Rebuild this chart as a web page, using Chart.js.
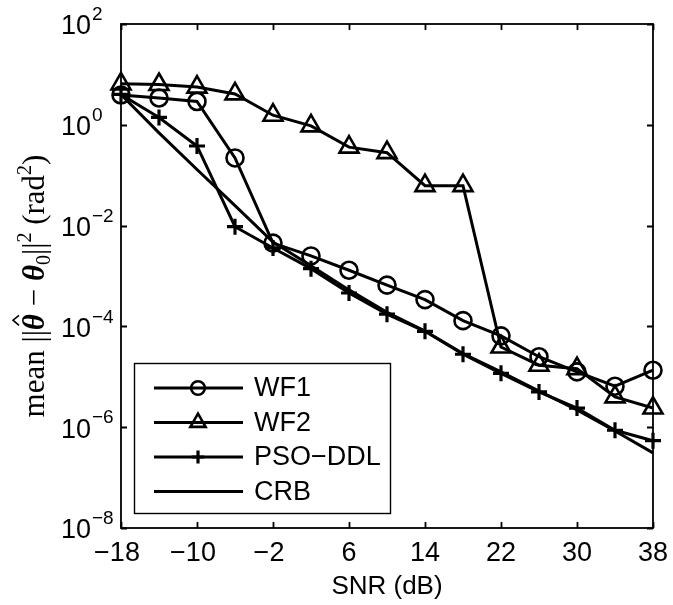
<!DOCTYPE html>
<html>
<head>
<meta charset="utf-8">
<script src="https://cdn.jsdelivr.net/npm/chart.js@4.4.0/dist/chart.umd.min.js"></script>
<style>
  html, body { margin: 0; padding: 0; background: #fff; }
  #wrap { width: 673px; height: 605px; }
</style>
</head>
<body>
<div id="wrap"><canvas id="errChart"></canvas></div>
<script>
// SNR grid (dB) and mean squared error per method
const snr = [-18, -14, -10, -6, -2, 2, 6, 10, 14, 18, 22, 26, 30, 34, 38];
const wf1 = [3.9, 3.4, 2.9, 0.22, 4.5e-3, 2.5e-3, 1.3e-3, 6.6e-4, 3.4e-4, 1.3e-4, 6.5e-5, 2.5e-5, 1.25e-5, 6.5e-6, 1.35e-5];
const wf2 = [6.5, 6.3, 5.6, 4.1, 1.55, 0.95, 0.36, 0.28, 0.062, 0.062, 3.9e-5, 1.7e-5, 1.45e-5, 4.0e-6, 2.4e-6];
const psoDdl = [4.0, 1.4, 0.38, 9.5e-3, 3.6e-3, 1.4e-3, 4.6e-4, 1.75e-4, 8.0e-5, 2.8e-5, 1.17e-5, 5.0e-6, 2.4e-6, 8.7e-7, 5.4e-7];
const crb = [4.0, 0.69, 0.13, 0.025, 4.7e-3, 1.6e-3, 5.3e-4, 1.9e-4, 8.1e-5, 2.9e-5, 1.25e-5, 5.2e-6, 2.2e-6, 8.4e-7, 3.1e-7];

const xTicks = [-18, -10, -2, 6, 14, 22, 30, 38];
const yExps = [2, 0, -2, -4, -6, -8];
const legendNames = ['WF1', 'WF2', 'PSO\u2212DDL', 'CRB'];

const sans = "'Liberation Sans', Arial, sans-serif";
const serif = "'Liberation Serif', 'Times New Roman', serif";

function pairs(ys) {
    return snr.map((x, i) => ({ x: x, y: ys[i] }));
}

function series(label, ys, style, r, bw) {
    return {
        label: label,
        data: pairs(ys),
        borderColor: '#000',
        borderWidth: 3,
        pointStyle: style,
        pointRadius: r,
        pointBorderWidth: bw,
        pointBorderColor: '#000',
        pointBackgroundColor: 'rgba(0,0,0,0)',
        tension: 0,
        clip: false
    };
}

// axes box, inward ticks, tick labels, titles and legend in MATLAB style
const matlabAxes = {
    id: 'matlabAxes',
    afterDraw(chart) {
        const ctx = chart.ctx;
        const a = chart.chartArea;
        const xs = chart.scales.x, ys = chart.scales.y;
        ctx.save();
        ctx.strokeStyle = '#000';
        ctx.fillStyle = '#000';
        ctx.lineWidth = 1.8;
        ctx.strokeRect(a.left, a.top, a.right - a.left, a.bottom - a.top);

        ctx.beginPath();
        xTicks.forEach(t => {
            const px = Math.round(xs.getPixelForValue(t)) + 0.5;
            ctx.moveTo(px, a.bottom); ctx.lineTo(px, a.bottom - 6);
            ctx.moveTo(px, a.top); ctx.lineTo(px, a.top + 6);
        });
        yExps.forEach(e => {
            const py = Math.round(ys.getPixelForValue(Math.pow(10, e))) + 0.5;
            ctx.moveTo(a.left, py); ctx.lineTo(a.left + 6, py);
            ctx.moveTo(a.right, py); ctx.lineTo(a.right - 6, py);
        });
        ctx.stroke();

        // x tick labels
        ctx.font = '27px ' + sans;
        ctx.textAlign = 'center';
        ctx.textBaseline = 'middle';
        xTicks.forEach(t => {
            const s = t < 0 ? '\u2212' + Math.abs(t) : String(t);
            ctx.fillText(s, xs.getPixelForValue(t) - (t < 0 ? 4 : 0), a.bottom + 26);
        });
        ctx.font = '26px ' + sans;
        ctx.fillText('SNR (dB)', (a.left + a.right) / 2, a.bottom + 59);

        // y tick labels 10^e
        yExps.forEach(e => {
            const py = ys.getPixelForValue(Math.pow(10, e));
            ctx.font = '27px ' + sans;
            ctx.textAlign = 'right';
            ctx.textBaseline = 'middle';
            ctx.fillText('10', 91, py + 3);
            ctx.font = '19px ' + sans;
            ctx.textAlign = 'left';
            const es = e < 0 ? '\u2212' + Math.abs(e) : String(e);
            ctx.fillText(es, 92, py - 9);
        });

        // y axis title, rotated
        ctx.save();
        ctx.translate(34, 286);
        ctx.rotate(-Math.PI / 2);
        ctx.textBaseline = 'alphabetic';
        ctx.textAlign = 'left';
        const big = '31px ' + serif, small = '20px ' + serif, th = 'bold italic 31px ' + serif;
        const parts = [
            ['mean ', big, 0], ['||', big, 0], ['\u03b8', th, 0, 'hat'], [' \u2212 ', big, 0],
            ['\u03b8', th, 0], ['0', small, 6], ['||', big, 0], ['2', small, -13],
            [' (rad', big, 0], ['2', small, -13], [')', big, 0]
        ];
        let total = 0;
        parts.forEach(p => { ctx.font = p[1]; total += ctx.measureText(p[0]).width; });
        let cx = -total / 2;
        parts.forEach(p => {
            ctx.font = p[1];
            const w = ctx.measureText(p[0]).width;
            ctx.fillText(p[0], cx, 10 + p[2]);
            if (p[3] === 'hat') {
                ctx.beginPath();
                ctx.lineWidth = 1.6;
                ctx.moveTo(cx + w * 0.3, -15);
                ctx.lineTo(cx + w * 0.62, -21);
                ctx.lineTo(cx + w * 0.92, -15);
                ctx.stroke();
            }
            cx += w;
        });
        ctx.restore();

        // legend
        const lx = 134, ly = 363, lw = 256, lh = 150;
        ctx.fillStyle = '#fff';
        ctx.fillRect(lx, ly, lw, lh);
        ctx.lineWidth = 1.4;
        ctx.strokeRect(lx + 0.5, ly + 0.5, lw, lh);
        ctx.font = '27px ' + sans;
        ctx.textAlign = 'left';
        ctx.textBaseline = 'middle';
        chart.data.datasets.forEach((ds, i) => {
            const ry = 388 + i * 34.5;
            ctx.strokeStyle = '#000';
            ctx.lineWidth = 3;
            ctx.beginPath();
            ctx.moveTo(154, ry); ctx.lineTo(243, ry);
            ctx.stroke();
            if (ds.pointRadius > 0) {
                ctx.fillStyle = 'rgba(0,0,0,0)';
                ctx.lineWidth = ds.pointBorderWidth;
                Chart.helpers.drawPoint(ctx, {
                    pointStyle: ds.pointStyle,
                    radius: ds.pointRadius * 0.8,
                    borderWidth: ds.pointBorderWidth,
                    rotation: 0
                }, 198, ry);
            }
            ctx.fillStyle = '#000';
            ctx.fillText(legendNames[i], 254, ry + 1);
        });
        ctx.restore();
    }
};

new Chart(document.getElementById('errChart'), {
    type: 'line',
    data: {
        datasets: [
            series(legendNames[0], wf1, 'circle', 8.5, 2.6),
            series(legendNames[1], wf2, 'triangle', 11, 2.6),
            series(legendNames[2], psoDdl, 'cross', 8, 3.2),
            series(legendNames[3], crb, 'circle', 0, 0)
        ]
    },
    options: {
        responsive: true,
        maintainAspectRatio: false,
        animation: false,
        layout: { padding: { left: 121, right: 20, top: 24, bottom: 77 } },
        plugins: { legend: { display: false }, tooltip: { enabled: false } },
        scales: {
            x: { type: 'linear', min: -18, max: 38, display: false },
            y: { type: 'logarithmic', min: 1e-8, max: 1e2, display: false }
        }
    },
    plugins: [matlabAxes]
});
</script>
</body>
</html>
